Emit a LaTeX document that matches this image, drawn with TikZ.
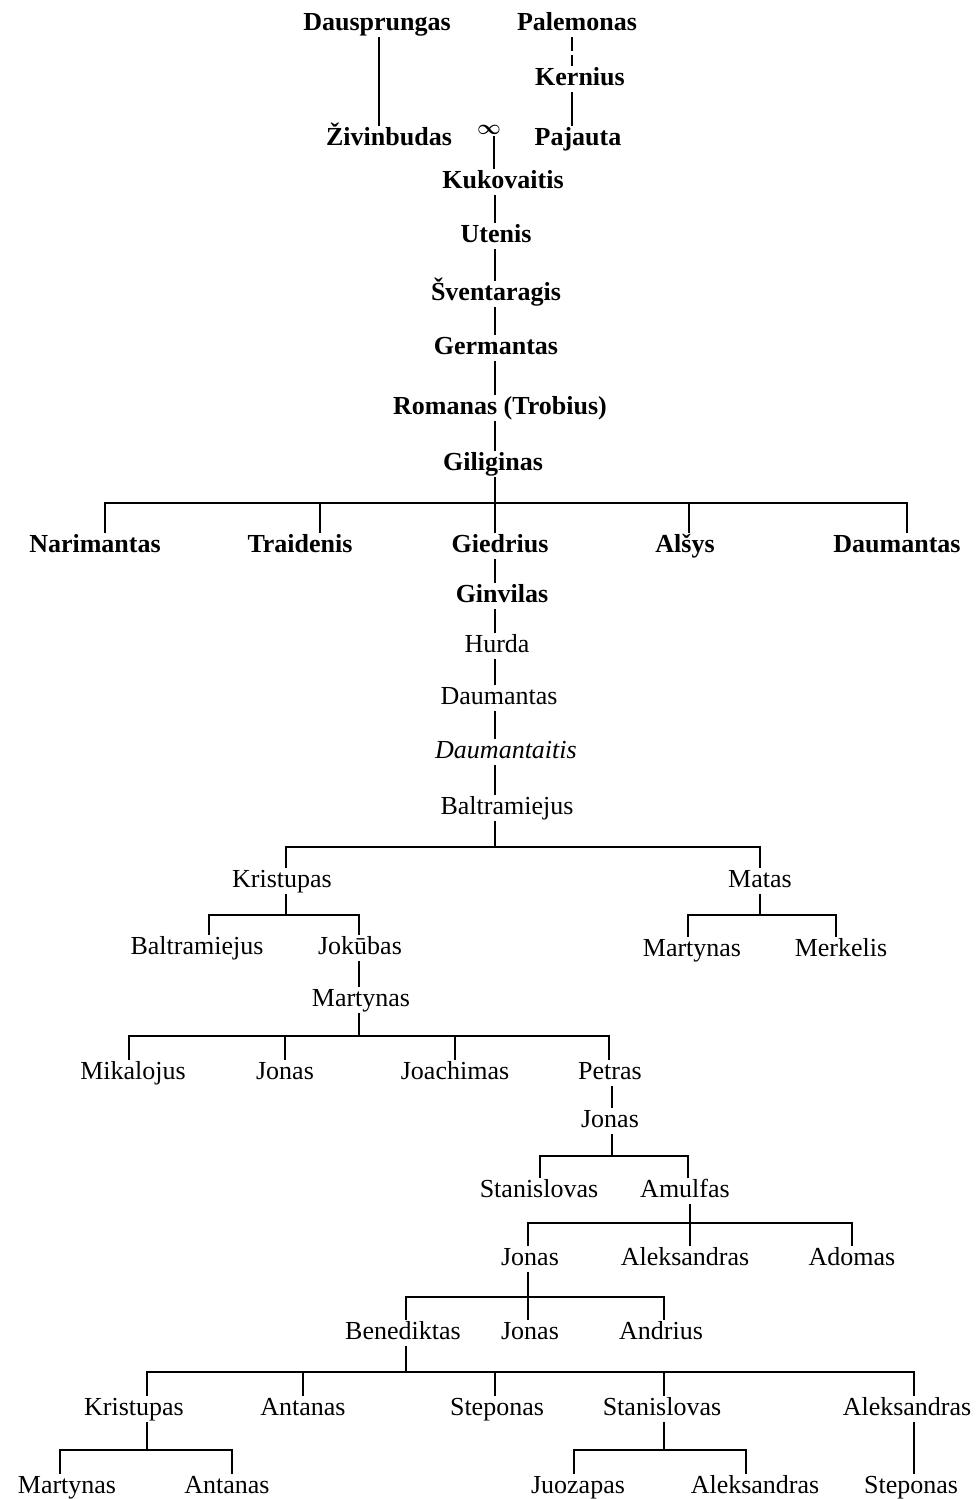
\documentclass[tikz,border=0pt]{standalone}
\usepackage{fontspec}
\setmainfont{Liberation Serif}
\usetikzlibrary{calc}

\tikzset{
  person/.style={font=\fontsize{26}{30}\selectfont, text height=18pt, text depth=6pt,
    inner sep=1pt, anchor=base},
  bperson/.style={person, font=\fontsize{26}{30}\selectfont\bfseries},
  iperson/.style={person, font=\fontsize{26}{30}\selectfont\itshape},
  link/.style={line width=1.5pt}
}

\begin{document}
\begin{tikzpicture}[x=1pt, y=-1pt]
\useasboundingbox (0,0) rectangle (978,1499);

% mythical beginning
\node[bperson] (dau) at (377,30) {Dausprungas};
\node[bperson] (pal) at (577,30) {Palemonas};
\node[bperson] (ker) at (580,85) {Kernius};
\node[bperson] (ziv) at (389,145) {Živinbudas};
\node[bperson] (paj) at (578,145) {Pajauta};
\node[inner sep=1pt, font=\fontsize{20}{20}\selectfont\boldmath] (inf) at (489,130) {$\infty$};

\coordinate (lz) at (379,0);
\coordinate (lp) at (572,0);
\coordinate (spine) at (495,0);

\draw[link] (dau.south -| lz) -- (ziv.north -| lz);
\draw[link, dash pattern=on 14pt off 4pt] (pal.south -| lp) -- (ker.north -| lp);
\draw[link] (ker.south -| lp) -- (paj.north -| lp);

% main line
\node[bperson] (kuk) at (503,188) {Kukovaitis};
\node[bperson] (ute) at (496,242) {Utenis};
\node[bperson] (sve) at (496,300) {Šventaragis};
\node[bperson] (ger) at (496,354) {Germantas};
\node[bperson] (rom) at (500,414) {Romanas (Trobius)};
\node[bperson] (gil) at (493,470) {Giliginas};

\draw[link] (inf.south -| 494,0) -- (kuk.north -| 494,0);
\draw[link] (kuk.south -| spine) -- (ute.north -| spine);
\draw[link] (ute.south -| spine) -- (sve.north -| spine);
\draw[link] (sve.south -| spine) -- (ger.north -| spine);
\draw[link] (ger.south -| spine) -- (rom.north -| spine);
\draw[link] (rom.south -| spine) -- (gil.north -| spine);

% sons of Giliginas
\node[bperson] (nar) at (95,552) {Narimantas};
\node[bperson] (tra) at (300,552) {Traidenis};
\node[bperson] (gie) at (500,552) {Giedrius};
\node[bperson] (als) at (685,552) {Alšys};
\node[bperson] (dmt) at (897,552) {Daumantas};

\coordinate (gilbus) at (495,503);
\draw[link] (gil.south -| gilbus) -- (gilbus);
\draw[link] (nar.north -| 105,0) |- (gilbus);
\draw[link] (tra.north -| 320,0) |- (gilbus);
\draw[link] (gie.north -| gilbus) -- (gilbus);
\draw[link] (als.north -| 689,0) |- (gilbus);
\draw[link] (dmt.north -| 907,0) |- (gilbus);

\node[bperson] (gin) at (502,602) {Ginvilas};
\node[person] (hur) at (497,652) {Hurda};
\node[person] (dmr) at (499,704) {Daumantas};
\node[iperson] (dmi) at (506,758) {Daumantaitis};
\node[person] (bal) at (507,814) {Baltramiejus};

\draw[link] (gie.south -| spine) -- (gin.north -| spine);
\draw[link] (gin.south -| spine) -- (hur.north -| spine);
\draw[link] (hur.south -| spine) -- (dmr.north -| spine);
\draw[link] (dmr.south -| spine) -- (dmi.north -| spine);
\draw[link] (dmi.south -| spine) -- (bal.north -| spine);

% Baltramiejus
\node[person] (kri) at (282,887) {Kristupas};
\node[person] (mat) at (760,887) {Matas};

\coordinate (balbus) at (495,847);
\draw[link] (bal.south -| balbus) -- (balbus);
\draw[link] (kri.north -| 286,0) |- (balbus);
\draw[link] (mat.north -| 760,0) |- (balbus);

\node[person] (bal2) at (197,954) {Baltramiejus};
\node[person] (jok) at (360,954) {Jokūbas};
\node[person] (mar) at (692,956) {Martynas};
\node[person] (mer) at (841,956) {Merkelis};

\coordinate (kribus) at (286,915);
\draw[link] (kri.south -| kribus) -- (kribus);
\draw[link] (bal2.north -| 209,0) |- (kribus);
\draw[link] (jok.north -| 359,0) |- (kribus);

\coordinate (matbus) at (760,915);
\draw[link] (mat.south -| matbus) -- (matbus);
\draw[link] (mar.north -| 688,0) |- (matbus);
\draw[link] (mer.north -| 836,0) |- (matbus);

\node[person] (mar2) at (361,1006) {Martynas};
\draw[link] (jok.south -| 359,0) -- (mar2.north -| 359,0);

% Martynas
\node[person] (mik) at (133,1079) {Mikalojus};
\node[person] (jon) at (285,1079) {Jonas};
\node[person] (joa) at (455,1079) {Joachimas};
\node[person] (pet) at (610,1079) {Petras};

\coordinate (marbus) at (359,1036);
\draw[link] (mar2.south -| marbus) -- (marbus);
\draw[link] (mik.north -| 129,0) |- (marbus);
\draw[link] (jon.north -| 285,0) |- (marbus);
\draw[link] (joa.north -| 455,0) |- (marbus);
\draw[link] (pet.north -| 609,0) |- (marbus);

\node[person] (jon2) at (610,1127) {Jonas};
\draw[link] (pet.south -| 612,0) -- (jon2.north -| 612,0);

\node[person] (sta) at (539,1197) {Stanislovas};
\node[person] (amu) at (685,1197) {Amulfas};

\coordinate (jonbus) at (612,1156);
\draw[link] (jon2.south -| jonbus) -- (jonbus);
\draw[link] (sta.north -| 540,0) |- (jonbus);
\draw[link] (amu.north -| 688,0) |- (jonbus);

% Amulfas
\node[person] (jon3) at (530,1265) {Jonas};
\node[person] (ale) at (685,1265) {Aleksandras};
\node[person] (ado) at (852,1265) {Adomas};

\coordinate (amubus) at (690,1223);
\draw[link] (amu.south -| amubus) -- (amubus);
\draw[link] (jon3.north -| 528,0) |- (amubus);
\draw[link] (ale.north -| amubus) -- (amubus);
\draw[link] (ado.north -| 852,0) |- (amubus);

\node[person] (ben) at (403,1339) {Benediktas};
\node[person] (jon4) at (530,1339) {Jonas};
\node[person] (and) at (661,1339) {Andrius};

\coordinate (jon3bus) at (528,1297);
\draw[link] (jon3.south -| jon3bus) -- (jon3bus);
\draw[link] (ben.north -| 406,0) |- (jon3bus);
\draw[link] (jon4.north -| jon3bus) -- (jon3bus);
\draw[link] (and.north -| 664,0) |- (jon3bus);

% Benediktas
\node[person] (kri2) at (134,1415) {Kristupas};
\node[person] (ant) at (303,1415) {Antanas};
\node[person] (ste) at (497,1415) {Steponas};
\node[person] (sta2) at (662,1415) {Stanislovas};
\node[person] (ale2) at (907,1415) {Aleksandras};

\coordinate (benbus) at (406,1372);
\draw[link] (ben.south -| benbus) -- (benbus);
\draw[link] (kri2.north -| 147,0) |- (benbus);
\draw[link] (ant.north -| 303,0) |- (benbus);
\draw[link] (ste.north -| 495,0) |- (benbus);
\draw[link] (sta2.north -| 664,0) |- (benbus);
\draw[link] (ale2.north -| 914,0) |- (benbus);

\node[person] (mar3) at (67,1493) {Martynas};
\node[person] (ant2) at (227,1493) {Antanas};
\node[person] (juo) at (578,1493) {Juozapas};
\node[person] (ale3) at (755,1493) {Aleksandras};
\node[person] (ste2) at (911,1493) {Steponas};

\coordinate (kri2bus) at (147,1450);
\draw[link] (kri2.south -| kri2bus) -- (kri2bus);
\draw[link] (mar3.north -| 60,0) |- (kri2bus);
\draw[link] (ant2.north -| 232,0) |- (kri2bus);

\coordinate (sta2bus) at (664,1450);
\draw[link] (sta2.south -| sta2bus) -- (sta2bus);
\draw[link] (juo.north -| 574,0) |- (sta2bus);
\draw[link] (ale3.north -| 746,0) |- (sta2bus);

\draw[link] (ale2.south -| 914,0) -- (ste2.north -| 914,0);

\end{tikzpicture}
\end{document}
